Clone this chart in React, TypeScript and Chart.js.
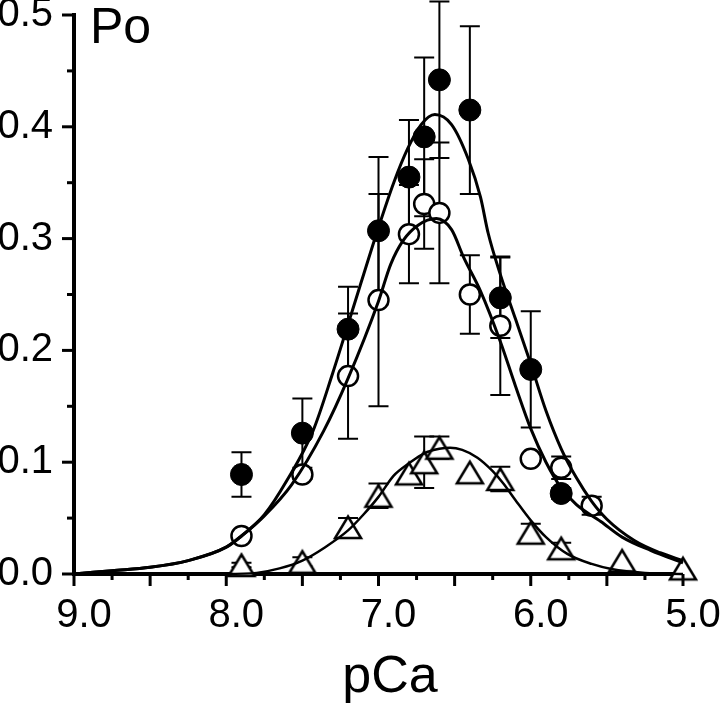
import React, { useEffect, useRef } from 'react';
import { Chart, registerables } from 'chart.js';

Chart.register(...registerables);

const FONT = "'Liberation Sans', Arial, Helvetica, sans-serif";

// Data points (pCa, Po, s.e.m.)
const filledPCa = [7.9, 7.5, 7.2, 7.0, 6.8, 6.7, 6.6, 6.4, 6.2, 6.0, 5.8];
const filledPo = [0.089, 0.126, 0.219, 0.307, 0.355, 0.391, 0.442, 0.415, 0.247, 0.183, 0.072];
const filledErr = [0.02, 0.031, 0.038, 0.066, 0.051, 0.071, 0.07, 0.075, 0.036, 0.052, 0.005];

const openPCa = [7.9, 7.5, 7.2, 7.0, 6.8, 6.7, 6.6, 6.4, 6.2, 6.0, 5.8, 5.6];
const openPo = [0.034, 0.089, 0.177, 0.245, 0.304, 0.331, 0.323, 0.25, 0.222, 0.103, 0.095, 0.061];
const openErr = [0.003, 0.004, 0.056, 0.095, 0.044, 0.04, 0.063, 0.035, 0.062, 0, 0.01, 0.008];

const triPCa = [7.9, 7.5, 7.2, 7.0, 6.8, 6.7, 6.6, 6.4, 6.2, 6.0, 5.8, 5.4, 5.0];
const triPo = [0.008, 0.011, 0.042, 0.07, 0.09, 0.1, 0.113, 0.091, 0.085, 0.037, 0.023, 0.012, 0.005];
const triErr = [0.002, 0.004, 0.008, 0.011, 0, 0.023, 0.01, 0, 0.011, 0.008, 0.005, 0, 0];

// Fitted curves
const fitFilledPCa = [9.0, 8.75, 8.5, 8.25, 8.0, 7.9, 7.75, 7.6, 7.43, 7.3, 7.18, 7.0, 6.9, 6.81, 6.72, 6.63, 6.52, 6.41, 6.33, 6.28, 6.2, 6.1, 6.0, 5.9, 5.8, 5.7, 5.6, 5.5, 5.32, 5.15, 5.0];
const fitFilledPo = [0.0, 0.003, 0.006, 0.012, 0.024, 0.034, 0.053, 0.084, 0.128, 0.18, 0.232, 0.31, 0.35, 0.38, 0.402, 0.411, 0.402, 0.371, 0.337, 0.305, 0.268, 0.228, 0.188, 0.146, 0.112, 0.086, 0.065, 0.049, 0.03, 0.019, 0.012];

const fitOpenPCa = [9.0, 8.75, 8.5, 8.25, 8.0, 7.9, 7.75, 7.57, 7.36, 7.2, 7.0, 6.92, 6.84, 6.74, 6.62, 6.52, 6.44, 6.33, 6.2, 6.1, 6.0, 5.9, 5.8, 5.7, 5.54, 5.4, 5.21, 5.0];
const fitOpenPo = [0.0, 0.003, 0.006, 0.012, 0.024, 0.034, 0.052, 0.08, 0.128, 0.175, 0.244, 0.277, 0.298, 0.312, 0.318, 0.308, 0.283, 0.253, 0.208, 0.168, 0.13, 0.1, 0.077, 0.062, 0.047, 0.033, 0.021, 0.01];

const fitTriPCa = [9.0, 8.0, 7.8, 7.65, 7.5, 7.35, 7.2, 7.1, 7.0, 6.9, 6.8, 6.7, 6.6, 6.53, 6.45, 6.35, 6.25, 6.18, 6.1, 6.0, 5.9, 5.76, 5.6, 5.47, 5.25, 5.0];
const fitTriPo = [0.0, 0.0, 0.001, 0.005, 0.012, 0.024, 0.039, 0.053, 0.069, 0.088, 0.099, 0.108, 0.112, 0.113, 0.111, 0.104, 0.092, 0.081, 0.066, 0.048, 0.033, 0.018, 0.009, 0.0045, 0.001, 0.0];

const xLabel = 'pCa';
const yLabel = 'Po';

const toXY = (xs: number[], ys: number[]) => xs.map((v, i) => ({ x: v, y: ys[i] }));

const errorBarPlugin = {
  id: 'errorBars',
  beforeDatasetsDraw(chart: any) {
    const { ctx, scales } = chart;
    const x = scales.x;
    const y = scales.y;
    const sets: [number[], number[], number[]][] = [
      [filledPCa, filledPo, filledErr],
      [openPCa, openPo, openErr],
      [triPCa, triPo, triErr],
    ];
    ctx.save();
    ctx.strokeStyle = '#000';
    ctx.lineWidth = 2;
    for (const [xs, ys, es] of sets) {
      xs.forEach((xv, i) => {
        const e = es[i];
        if (!(e > 0)) return;
        const px = x.getPixelForValue(xv);
        const top = y.getPixelForValue(ys[i] + e);
        const bot = y.getPixelForValue(ys[i] - e);
        ctx.beginPath();
        ctx.moveTo(px, top);
        ctx.lineTo(px, bot);
        ctx.moveTo(px - 10, top);
        ctx.lineTo(px + 10, top);
        ctx.moveTo(px - 10, bot);
        ctx.lineTo(px + 10, bot);
        ctx.stroke();
      });
    }
    ctx.restore();
  },
};

const axisDecorPlugin = {
  id: 'axisDecor',
  afterDraw(chart: any) {
    const { ctx, scales, chartArea } = chart;
    const x = scales.x;
    const y = scales.y;
    ctx.save();
    ctx.strokeStyle = '#000';
    ctx.lineWidth = 3;
    // y tick marks every 0.05, major every 0.1
    for (let k = 0; k <= 10; k++) {
      const py = y.getPixelForValue(k * 0.05);
      const len = k % 2 === 0 ? 12 : 7;
      ctx.beginPath();
      ctx.moveTo(chartArea.left - len, py);
      ctx.lineTo(chartArea.left, py);
      ctx.stroke();
    }
    // x tick marks every 0.25, major every 0.5
    for (let k = 0; k <= 16; k++) {
      const px = x.getPixelForValue(5 + k * 0.25);
      const len = k % 2 === 0 ? 12 : 6;
      ctx.beginPath();
      ctx.moveTo(px, chartArea.bottom);
      ctx.lineTo(px, chartArea.bottom + len);
      ctx.stroke();
    }
    ctx.fillStyle = '#000';
    ctx.textBaseline = 'alphabetic';
    ctx.textAlign = 'left';
    ctx.font = `50px ${FONT}`;
    ctx.fillText(yLabel, 90, 43);
    ctx.textAlign = 'center';
    ctx.font = `52px ${FONT}`;
    ctx.fillText(xLabel, 390, 692);
    ctx.restore();
  },
};

export default function App() {
  const ref = useRef<HTMLCanvasElement>(null);
  useEffect(() => {
    document.body.style.margin = '0';
    const tri = document.createElement('canvas');
    tri.width = 32;
    tri.height = 28;
    const tc = tri.getContext('2d')!;
    tc.fillStyle = '#fff';
    tc.strokeStyle = '#000';
    tc.lineWidth = 2.5;
    tc.lineJoin = 'miter';
    tc.beginPath();
    tc.moveTo(16, 3.5);
    tc.lineTo(29, 25);
    tc.lineTo(3, 25);
    tc.closePath();
    tc.fill();
    tc.stroke();

    const lineDs = (label: string, xs: number[], ys: number[], w: number) => ({
      label,
      data: toXY(xs, ys),
      showLine: true,
      borderColor: '#000',
      borderWidth: w,
      pointRadius: 0,
      cubicInterpolationMode: 'monotone' as const,
      order: 0,
      clip: false as any,
    });

    const chart = new Chart(ref.current!, {
      type: 'scatter',
      data: {
        datasets: [
          lineDs('fit filled', fitFilledPCa, fitFilledPo, 3),
          lineDs('fit open', fitOpenPCa, fitOpenPo, 3),
          lineDs('fit triangle', fitTriPCa, fitTriPo, 2.5),
          {
            label: 'filled',
            data: toXY(filledPCa, filledPo),
            pointStyle: 'circle',
            pointRadius: 11,
            backgroundColor: '#000',
            borderColor: '#000',
            borderWidth: 1,
            order: 1,
            clip: false as any,
          },
          {
            label: 'open',
            data: toXY(openPCa, openPo),
            pointStyle: 'circle',
            pointRadius: 10,
            backgroundColor: '#fff',
            borderColor: '#000',
            borderWidth: 2.5,
            order: 1,
            clip: false as any,
          },
          {
            label: 'triangle',
            data: toXY(triPCa, triPo),
            pointStyle: tri as any,
            pointRadius: 14,
            order: 1,
            clip: false as any,
          },
        ],
      },
      options: {
        responsive: false,
        animation: false,
        events: [],
        layout: { padding: { left: 0, right: 37, top: 13, bottom: 0 } },
        plugins: { legend: { display: false }, tooltip: { enabled: false } },
        scales: {
          x: {
            type: 'linear',
            reverse: true,
            min: 5,
            max: 9,
            afterFit: (s: any) => {
              s.height = 136;
              s.paddingLeft = 0;
              s.paddingRight = 0;
            },
            grid: { display: false, drawTicks: false },
            border: { display: true, width: 4, color: '#000' },
            ticks: {
              stepSize: 1,
              autoSkip: false,
              maxRotation: 0,
              callback: (v: any) => Number(v).toFixed(1),
              font: { family: FONT, size: 40 },
              color: '#000',
              padding: 18,
              labelOffset: 10,
            },
          },
          y: {
            min: 0,
            max: 0.5,
            afterFit: (s: any) => {
              s.width = 74;
              s.paddingTop = 0;
              s.paddingBottom = 0;
            },
            grid: { display: false, drawTicks: false },
            border: { display: true, width: 4, color: '#000' },
            ticks: {
              stepSize: 0.1,
              callback: (v: any) => Number(v).toFixed(1),
              font: { family: FONT, size: 40 },
              color: '#000',
              padding: 21,
            },
          },
        },
      },
      plugins: [errorBarPlugin, axisDecorPlugin],
    });
    return () => chart.destroy();
  }, []);
  return <canvas ref={ref} width={720} height={710} style={{ display: 'block' }} />;
}
